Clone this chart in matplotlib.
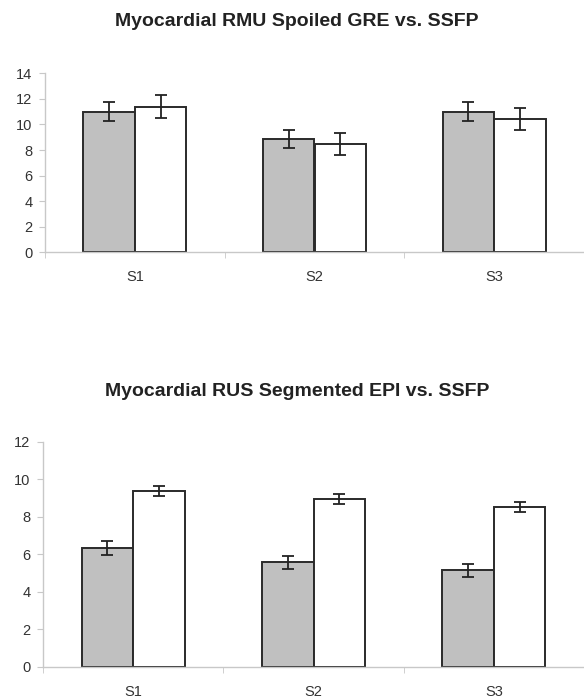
import matplotlib
matplotlib.use("Agg")
import matplotlib.pyplot as plt
import numpy as np

plt.rcParams['font.family'] = ['Liberation Sans', 'DejaVu Sans']

categories = ["S1", "S2", "S3"]

title_top = "Myocardial RMU Spoiled GRE vs. SSFP"
top_gray = [11.0, 8.86, 11.0]
top_gray_err = [0.72, 0.73, 0.73]
top_white = [11.4, 8.47, 10.4]
top_white_err = [0.87, 0.88, 0.86]
top_yticks = [0, 2, 4, 6, 8, 10, 12, 14]

title_bot = "Myocardial RUS Segmented EPI vs. SSFP"
bot_gray = [6.33, 5.57, 5.14]
bot_gray_err = [0.35, 0.35, 0.36]
bot_white = [9.38, 8.94, 8.53]
bot_white_err = [0.27, 0.27, 0.26]
bot_yticks = [0, 2, 4, 6, 8, 10, 12]

W, H = 584, 698
fig = plt.figure(figsize=(W / 100, H / 100), dpi=100)

def px_axes(left, right, top, bottom):
    return fig.add_axes([left / W, 1 - bottom / H, (right - left) / W, (bottom - top) / H])

def draw(ax, gray, gerr, white, werr, yticks, title, title_baseline):
    x = np.arange(len(categories))
    w = 0.286
    ek = dict(ecolor='#222222', elinewidth=1.3, capsize=4, capthick=1.3)
    ax.bar(x - w / 2, gray, w, color='#c0c0c0', edgecolor='#2a2a2a', linewidth=1.4,
           yerr=gerr, error_kw=ek, zorder=2)
    ax.bar(x + w / 2, white, w, color='white', edgecolor='#2a2a2a', linewidth=1.4,
           yerr=werr, error_kw=ek, zorder=2)
    ax.set_xlim(-0.5, len(categories) - 0.5)
    ax.set_ylim(0, max(yticks))
    ax.set_yticks(yticks)
    ax.set_yticklabels([str(t) for t in yticks])
    ax.set_xticks(x)
    ax.set_xticklabels(categories)
    ax.set_xticks(np.arange(len(categories) + 1) - 0.5, minor=True)
    ax.tick_params(axis='x', which='major', length=0, pad=13, labelsize=10.5, labelcolor='#333333')
    ax.tick_params(axis='x', which='minor', length=4, color='#c8c8c8', direction='out')
    ax.tick_params(axis='y', length=4, color='#c8c8c8', pad=5, labelsize=10.5, labelcolor='#333333')
    for s in ['top', 'right']:
        ax.spines[s].set_visible(False)
    for s in ['left', 'bottom']:
        ax.spines[s].set_color('#c8c8c8')
        ax.spines[s].set_linewidth(1.0)
    fig.text(297 / W, 1 - title_baseline / H, title, ha='center', va='baseline',
             fontsize=14, fontweight='bold', color='#222222')

ax1 = px_axes(45, 584, 73.3, 252.3)
draw(ax1, top_gray, top_gray_err, top_white, top_white_err, top_yticks, title_top, 26.5)

ax2 = px_axes(43, 584, 441.7, 666.7)
draw(ax2, bot_gray, bot_gray_err, bot_white, bot_white_err, bot_yticks, title_bot, 396.5)

fig.savefig("out.png", dpi=100)
